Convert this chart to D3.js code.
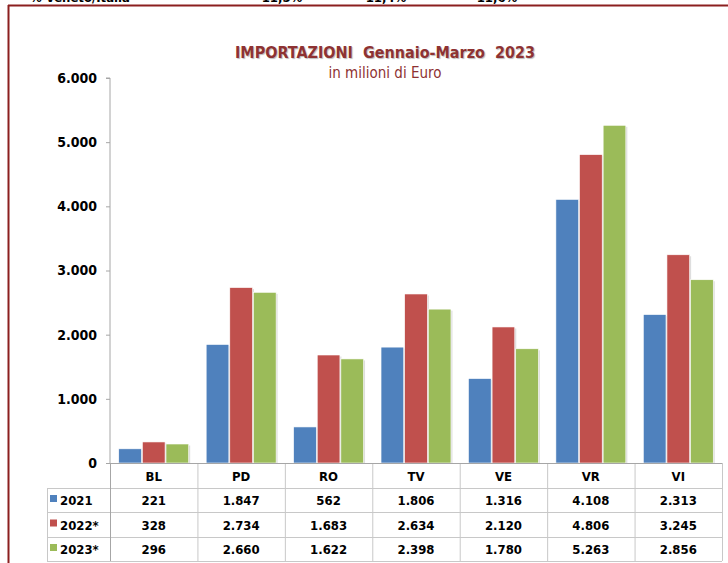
<!DOCTYPE html>
<html>
<head>
<meta charset="utf-8">
<script src="https://cdn.jsdelivr.net/npm/d3@7"></script>
<style>
  body { margin: 0; background: #fff; }
  text { font-family: "DejaVu Sans Condensed", "DejaVu Sans", sans-serif; }
</style>
</head>
<body>
<svg class="js-chart" width="728" height="563"></svg>
<script>
// data
var provinces = ['BL', 'PD', 'RO', 'TV', 'VE', 'VR', 'VI'];
var seriesNames = ['2021', '2022*', '2023*'];
var values2021 = [221, 1847, 562, 1806, 1316, 4108, 2313];
var values2022 = [328, 2734, 1683, 2634, 2120, 4806, 3245];
var values2023 = [296, 2660, 1622, 2398, 1780, 5263, 2856];
var yTicks = [0, 1000, 2000, 3000, 4000, 5000, 6000];
var topRow = ['% Veneto/Italia', '11,5%', '11,4%', '11,6%'];

var seriesValues = [values2021, values2022, values2023],
    colors = ['#4f81bd', '#c0504d', '#9bbb59'],
    frameColor = '#8b1f1f',
    gridColor = '#a6a6a6';

var fmt = function (v) { return d3.format(',')(v).replace(/,/g, '.'); };

var svg = d3.select('.js-chart');

// cut-off line of the table above
var topX = [30, 282, 386, 497];
svg.selectAll('text.top-row')
    .data(topRow)
    .enter().append('text')
    .attr('class', 'top-row')
    .attr('x', function (d, i) { return topX[i]; })
    .attr('y', 2)
    .attr('text-anchor', function (d, i) { return i ? 'middle' : 'start'; })
    .style('font-size', '13px')
    .style('font-weight', 'bold')
    .text(function (d) { return d; });

// frame
svg.append('line').attr('x1', 8).attr('x2', 728).attr('y1', 5.5).attr('y2', 5.5)
    .attr('stroke', frameColor).attr('stroke-width', 2);
svg.append('line').attr('x1', 8.5).attr('x2', 8.5).attr('y1', 5).attr('y2', 563)
    .attr('stroke', frameColor).attr('stroke-width', 2);

// title
svg.append('text')
    .attr('x', 385).attr('y', 58)
    .attr('text-anchor', 'middle')
    .style('font-size', '16px').style('font-weight', 'bold')
    .attr('fill', '#8e3232')
    .style('text-shadow', '1px 1px 1px #bbb')
    .attr('xml:space', 'preserve')
    .text('IMPORTAZIONI  Gennaio-Marzo  2023');
svg.append('text')
    .attr('x', 385).attr('y', 78)
    .attr('text-anchor', 'middle')
    .style('font-size', '15px')
    .attr('fill', '#8e3232')
    .text('in milioni di Euro');

// scales
var plotLeft = 110, plotRight = 722, plotTop = 78, plotBottom = 463;

var y = d3.scaleLinear().domain([0, 6000]).range([plotBottom, plotTop]);

var x = d3.scaleBand().domain(provinces).range([plotLeft, plotRight])
    .paddingInner(0.2).paddingOuter(0.1);

var xGrid = d3.scaleBand().domain(provinces).range([plotLeft, plotRight]);

var xInner = d3.scaleBand().domain(seriesNames).range([0, x.bandwidth()]).paddingInner(0.04);

// y axis
var yAxis = svg.append('g')
    .attr('transform', 'translate(' + plotLeft + ',0)')
    .call(d3.axisLeft(y).tickValues(yTicks).tickSize(4).tickPadding(9).tickFormat(fmt));
yAxis.select('.domain').attr('stroke', gridColor).attr('d', 'M-4,' + plotTop + 'H0V' + plotBottom);
yAxis.selectAll('.tick line').attr('stroke', gridColor);
yAxis.selectAll('.tick text')
    .style('font-size', '14px').style('font-weight', 'bold')
    .attr('fill', '#000').attr('font-family', null);

// bars
var groups = svg.selectAll('g.province')
    .data(provinces)
    .enter().append('g')
    .attr('class', 'province')
    .attr('transform', function (d) { return 'translate(' + x(d) + ',0)'; });

var barData = function (d, i) {
  return seriesNames.map(function (s, j) { return { series: s, idx: j, value: seriesValues[j][i] }; });
};

// soft shadow
groups.selectAll('rect.shadow')
    .data(barData)
    .enter().append('rect')
    .attr('class', 'shadow')
    .attr('x', function (d) { return xInner(d.series) + 1.5; })
    .attr('y', function (d) { return y(d.value) + 1.5; })
    .attr('width', xInner.bandwidth())
    .attr('height', function (d) { return plotBottom - y(d.value) - 1.5; })
    .attr('fill', '#dedede');

groups.selectAll('rect.bar')
    .data(barData)
    .enter().append('rect')
    .attr('class', 'bar')
    .attr('x', function (d) { return xInner(d.series); })
    .attr('y', function (d) { return y(d.value); })
    .attr('width', xInner.bandwidth())
    .attr('height', function (d) { return plotBottom - y(d.value); })
    .attr('fill', function (d) { return colors[d.idx]; })
    .attr('stroke', '#fff')
    .attr('stroke-width', 0.6);

// data table
var rowTop = [plotBottom, 488, 512, 537],
    tableBottom = 561,
    legendLeft = 47;

var table = svg.append('g').attr('stroke', '#c8c8c8').attr('stroke-width', 1);

// row lines
rowTop.slice(1).concat([tableBottom]).forEach(function (ry) {
  table.append('line').attr('x1', legendLeft).attr('x2', plotRight)
      .attr('y1', ry + 0.5).attr('y2', ry + 0.5);
});
// column lines
provinces.forEach(function (p) {
  table.append('line')
      .attr('x1', xGrid(p) + 0.5).attr('x2', xGrid(p) + 0.5)
      .attr('y1', plotBottom).attr('y2', tableBottom);
});
table.append('line').attr('x1', plotRight + 0.5).attr('x2', plotRight + 0.5)
    .attr('y1', plotBottom).attr('y2', tableBottom);
table.append('line').attr('x1', legendLeft + 0.5).attr('x2', legendLeft + 0.5)
    .attr('y1', rowTop[1]).attr('y2', tableBottom);
// baseline and axis through the table
table.append('line').attr('x1', plotLeft).attr('x2', plotRight)
    .attr('y1', plotBottom + 0.5).attr('y2', plotBottom + 0.5).attr('stroke', gridColor);
table.append('line').attr('x1', plotLeft + 0.5).attr('x2', plotLeft + 0.5)
    .attr('y1', plotBottom).attr('y2', tableBottom).attr('stroke', gridColor);

// header labels
svg.selectAll('text.cat')
    .data(provinces)
    .enter().append('text')
    .attr('class', 'cat')
    .attr('x', function (d) { return xGrid(d) + xGrid.bandwidth() / 2; })
    .attr('y', (rowTop[0] + rowTop[1]) / 2 + 5)
    .attr('text-anchor', 'middle')
    .style('font-size', '13px').style('font-weight', 'bold')
    .text(function (d) { return d; });

// rows
seriesNames.forEach(function (s, j) {
  var cy = (rowTop[j + 1] + (rowTop[j + 2] || tableBottom)) / 2;
  svg.append('rect')
      .attr('x', 50).attr('y', cy - 5)
      .attr('width', 7).attr('height', 7)
      .attr('fill', colors[j]);
  svg.append('text')
      .attr('x', 60).attr('y', cy + 5)
      .style('font-size', '13px').style('font-weight', 'bold')
      .text(s);
  svg.selectAll('text.val' + j)
      .data(seriesValues[j])
      .enter().append('text')
      .attr('class', 'val' + j)
      .attr('x', function (d, i) { return xGrid(provinces[i]) + xGrid.bandwidth() / 2; })
      .attr('y', cy + 5)
      .attr('text-anchor', 'middle')
      .style('font-size', '13px').style('font-weight', 'bold')
      .text(fmt);
});
</script>
</body>
</html>
